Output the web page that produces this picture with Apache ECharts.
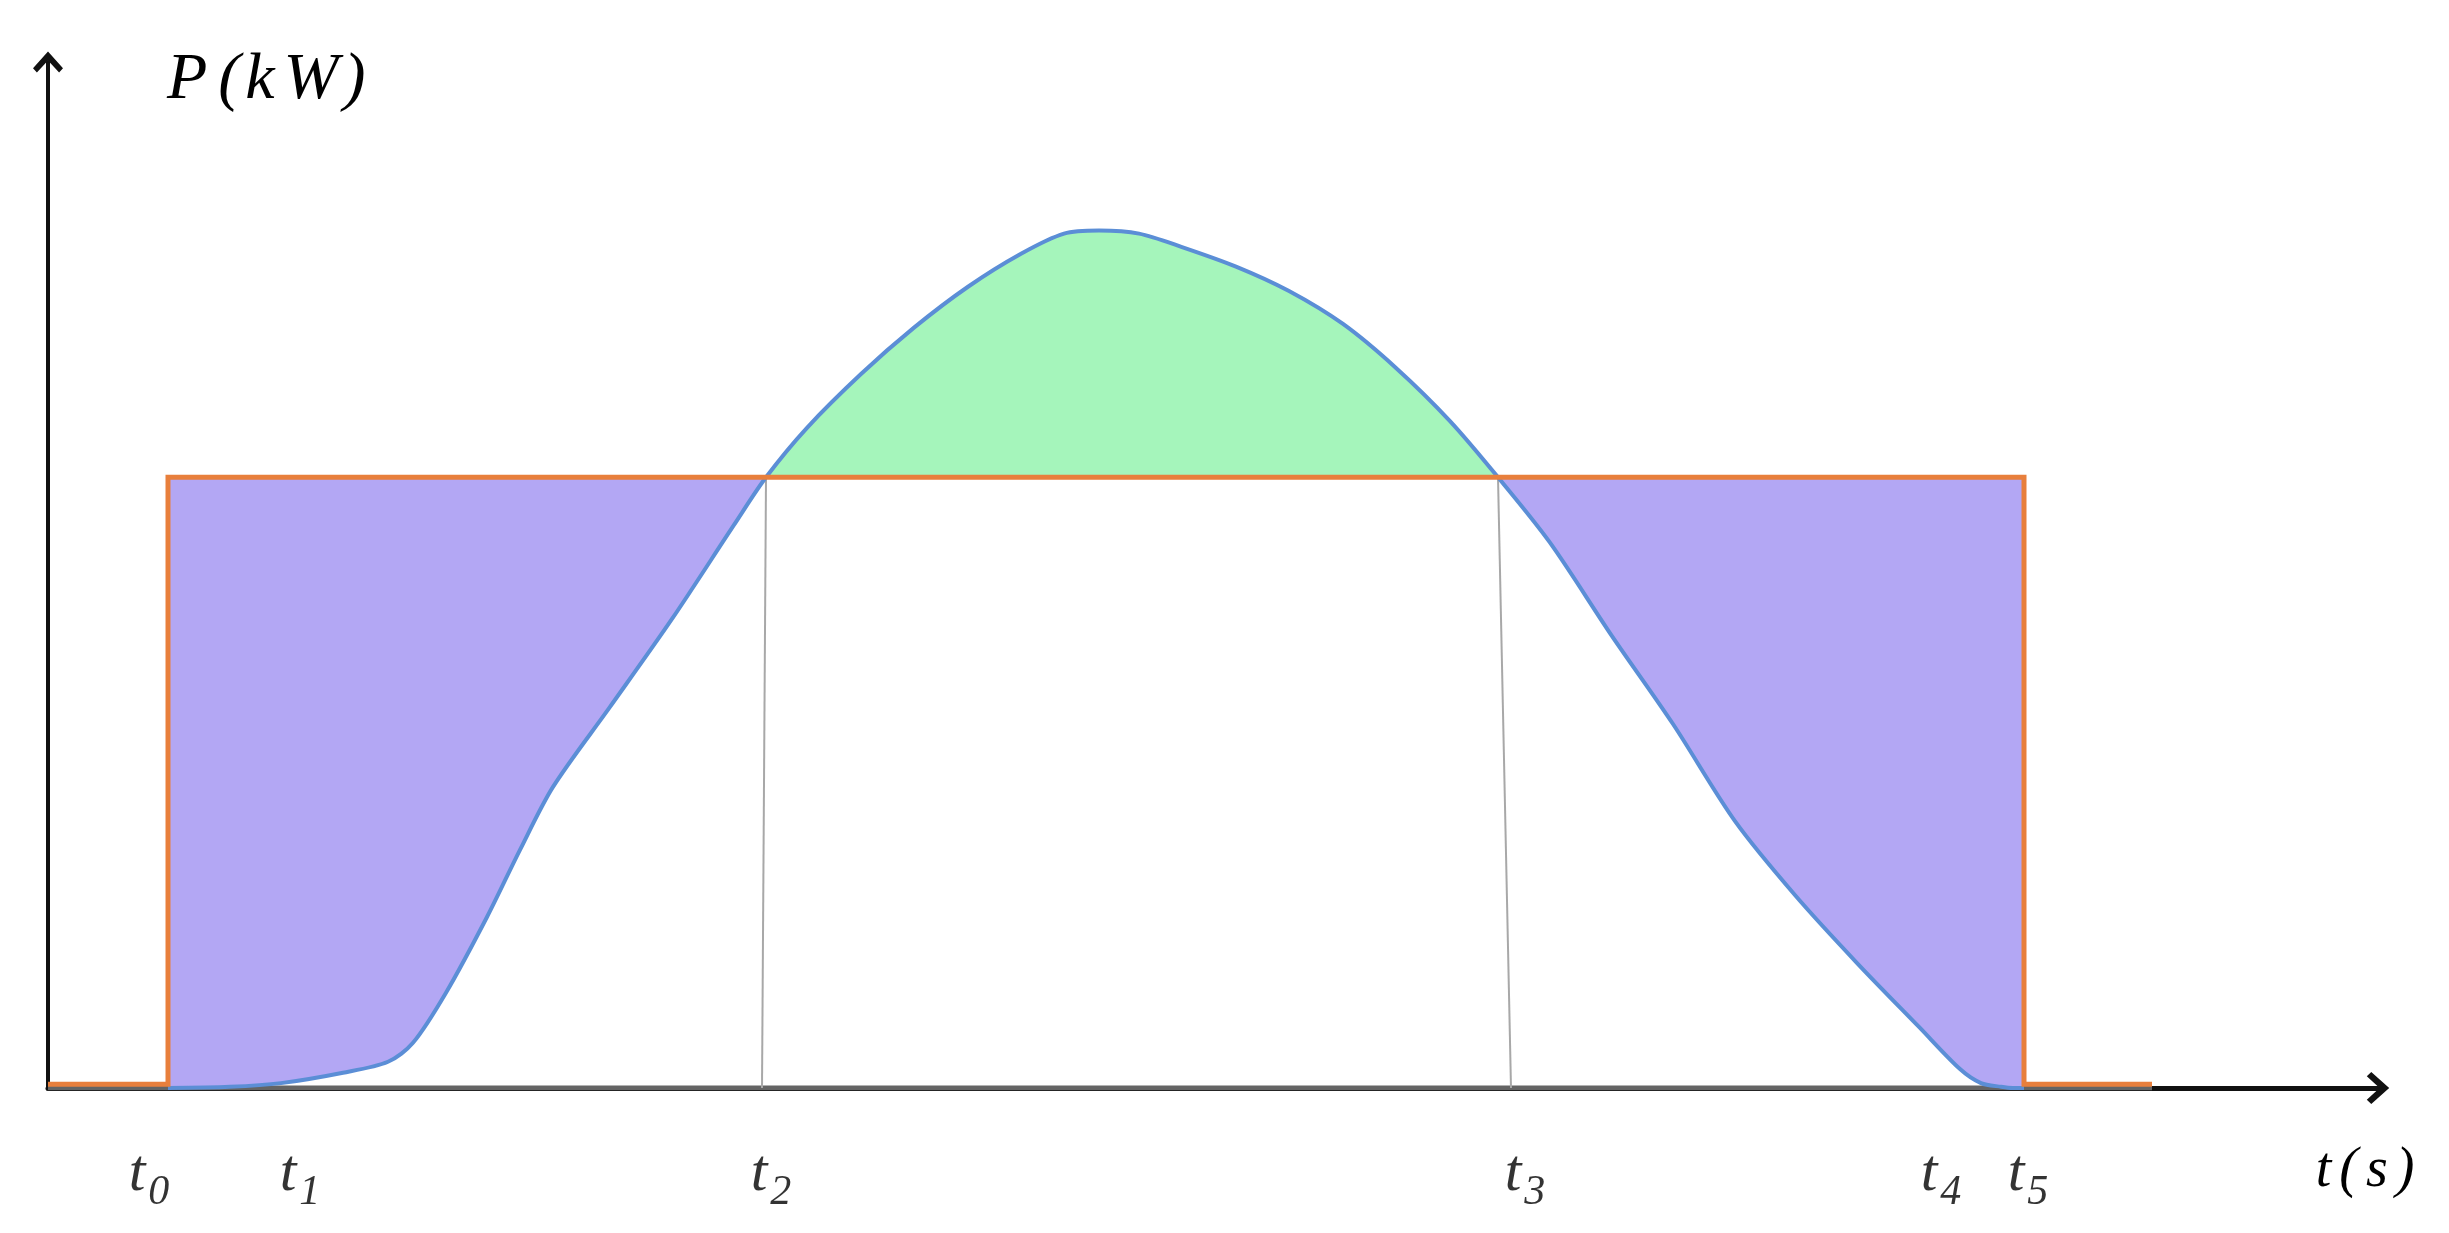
<!DOCTYPE html>
<html>
<head>
<meta charset="utf-8">
<script src="https://cdn.jsdelivr.net/npm/echarts@6/dist/echarts.min.js"></script>
<style>
html, body { margin: 0; padding: 0; background: #fff; }
#chart { width: 2449px; height: 1233px; }
</style>
</head>
<body>
<div id="chart"></div>
<script>
// power curve (t in arbitrary time units, P in arbitrary kW units)
const curveT = [12.0, 18.2, 23.3, 29.5, 34.0, 36.5, 39.8, 43.9, 47.2, 50.5, 56.2, 62.4, 68.6, 71.8,
	75.9, 81.3, 86.6, 92.0, 97.3, 101.6, 105.1, 109.1, 113.4, 118.8, 124.1, 129.5, 134.8, 140.2, 145.0,
	150.2, 156.4, 162.5, 168.7, 174.8, 181.0, 187.1, 191.2, 193.3, 195.3, 196.5, 197.6];
const curveP = [0, 0.2, 0.8, 2.5, 4.3, 7.4, 15.6, 28.0, 39.0, 49.3, 62.4, 76.8, 92.2, 100,
	108.1, 116.9, 124.5, 131.2, 136.6, 139.9, 140.4, 139.9, 137.7, 134.5, 130.5, 125.1, 117.9, 109.2, 100,
	89.3, 74.0, 59.6, 43.7, 31.4, 20.3, 10.0, 3.1, 0.8, 0.2, 0, 0];

// constant (orange) power level and its step outline
const LEVEL = 100;
const stepT = [0, 12.0, 12.0, 197.6, 197.6, 210.4];
const stepP = [0.6, 0.6, LEVEL, LEVEL, 0.6, 0.6];

// thin grey guides dropped from t2 / t3 to the axis
const guideTopT = [71.8, 145.0];
const guideBottomT = [71.4, 146.3];

// grey part of the time axis
const axisGreyT = [0, 210.4];

// tick labels under the time axis
const tickT = [10.1, 25.2, 72.3, 147.7, 189.3, 198.0];
const tickSub = ['0', '1', '2', '3', '4', '5'];
const TICK_ROW_P = -14.2;

const X_MAX = 233;
const Y_MAX = 168;

const SERIF = "'Liberation Serif', 'Times New Roman', serif";
const BLUE = '#5b8ed6';
const ORANGE = '#e87f3c';
const PURPLE = '#b3a7f4';
const GREEN = '#a5f5bb';

// open arrow head, drawn pointing up, rotated by the axis
const ARROW = 'path://M50,0 L100,56 L87,70 L50,30 L13,70 L0,56 Z';

const pairs = (xs, ys) => xs.map((x, i) => [x, ys[i]]);

const SMOOTH = 0.3;

const chart = echarts.init(document.getElementById('chart'), null, { renderer: 'canvas' });

chart.setOption({
	backgroundColor: '#fff',
	animation: false,
	grid: { left: 48, right: 71, top: 62, bottom: 145, containLabel: false, outerBoundsMode: 'none' },
	// area between the curve and the constant level: purple below it, green above it
	visualMap: {
		show: false,
		type: 'piecewise',
		seriesIndex: 2,
		dimension: 1,
		pieces: [
			{ gte: -1, lt: LEVEL, color: PURPLE },
			{ gte: LEVEL, lte: Y_MAX, color: GREEN },
		],
	},
	xAxis: {
		type: 'value',
		min: 0,
		max: X_MAX,
		axisLine: {
			show: true,
			onZero: false,
			symbol: ['none', ARROW],
			symbolSize: [32, 24],
			lineStyle: { color: '#111', width: 5 },
		},
		axisTick: { show: false },
		axisLabel: { show: false },
		splitLine: { show: false },
		name: '{a|t}{a|(}{a|s}{b|)}',
		nameLocation: 'end',
		nameGap: -13,
		nameMoveOverlap: false,
		nameTextStyle: {
			align: 'center',
			verticalAlign: 'top',
			padding: [55, 0, 0, 0],
			rich: {
				a: { fontFamily: SERIF, fontStyle: 'italic', fontSize: 56, lineHeight: 56, color: '#000', padding: [0, 8, 0, 0] },
				b: { fontFamily: SERIF, fontStyle: 'italic', fontSize: 56, lineHeight: 56, color: '#000' },
			},
		},
	},
	yAxis: {
		type: 'value',
		min: 0,
		max: Y_MAX,
		axisLine: {
			show: true,
			symbol: ['none', ARROW],
			symbolSize: [30, 22],
			lineStyle: { color: '#111', width: 4 },
		},
		axisTick: { show: false },
		axisLabel: { show: false },
		splitLine: { show: false },
		name: '{a|P}{c|(}{k|k}{c|W}{b|)}',
		nameLocation: 'end',
		nameGap: 14,
		nameMoveOverlap: false,
		nameTextStyle: {
			align: 'left',
			verticalAlign: 'top',
			padding: [0, 0, 0, 119],
			rich: {
				a: { fontFamily: SERIF, fontStyle: 'italic', fontSize: 66, lineHeight: 66, color: '#000', padding: [0, 11, 0, 0] },
				c: { fontFamily: SERIF, fontStyle: 'italic', fontSize: 66, lineHeight: 66, color: '#000', padding: [0, 5, 0, 0] },
				k: { fontFamily: SERIF, fontStyle: 'italic', fontSize: 66, lineHeight: 66, color: '#000', padding: [0, 9, 0, 0] },
				b: { fontFamily: SERIF, fontStyle: 'italic', fontSize: 66, lineHeight: 66, color: '#000' },
			},
		},
	},
	series: [
		{
			name: 'axisGrey', type: 'line', data: axisGreyT.map(t => [t, 0]),
			showSymbol: false, silent: true, lineStyle: { color: '#646464', width: 5 }, z: 2,
		},
		{
			name: 'level', type: 'line', data: pairs(stepT, stepP),
			showSymbol: false, silent: true,
			lineStyle: { color: ORANGE, width: 5, join: 'miter' }, z: 4,
			markLine: {
				silent: true,
				symbol: 'none',
				z: 3,
				label: { show: false },
				lineStyle: { color: '#a8a8a8', width: 2, type: 'solid' },
				data: guideTopT.map((t, i) => [{ coord: [t, LEVEL] }, { coord: [guideBottomT[i], 0] }]),
			},
		},
		{
			name: 'power', type: 'line', data: pairs(curveT, curveP),
			smooth: SMOOTH, showSymbol: false, silent: true,
			lineStyle: { color: BLUE, width: 4 },
			areaStyle: { origin: LEVEL, opacity: 1 },
			z: 3,
		},
		{
			name: 'ticks', type: 'scatter', clip: false, silent: true,
			data: tickT.map(t => [t, TICK_ROW_P]),
			symbolSize: 1,
			itemStyle: { color: 'rgba(0,0,0,0)' },
			label: {
				show: true,
				position: 'inside',
				formatter: p => '{t|t}{s|' + tickSub[p.dataIndex] + '}',
				rich: {
					t: { fontFamily: SERIF, fontStyle: 'italic', fontSize: 60, lineHeight: 60, color: '#000', verticalAlign: 'top' },
					s: { fontFamily: SERIF, fontStyle: 'italic', fontSize: 42, lineHeight: 42, color: '#000', verticalAlign: 'top', padding: [27, 0, 0, 3] },
				},
			},
			z: 6,
		},
	],
});
</script>
</body>
</html>
